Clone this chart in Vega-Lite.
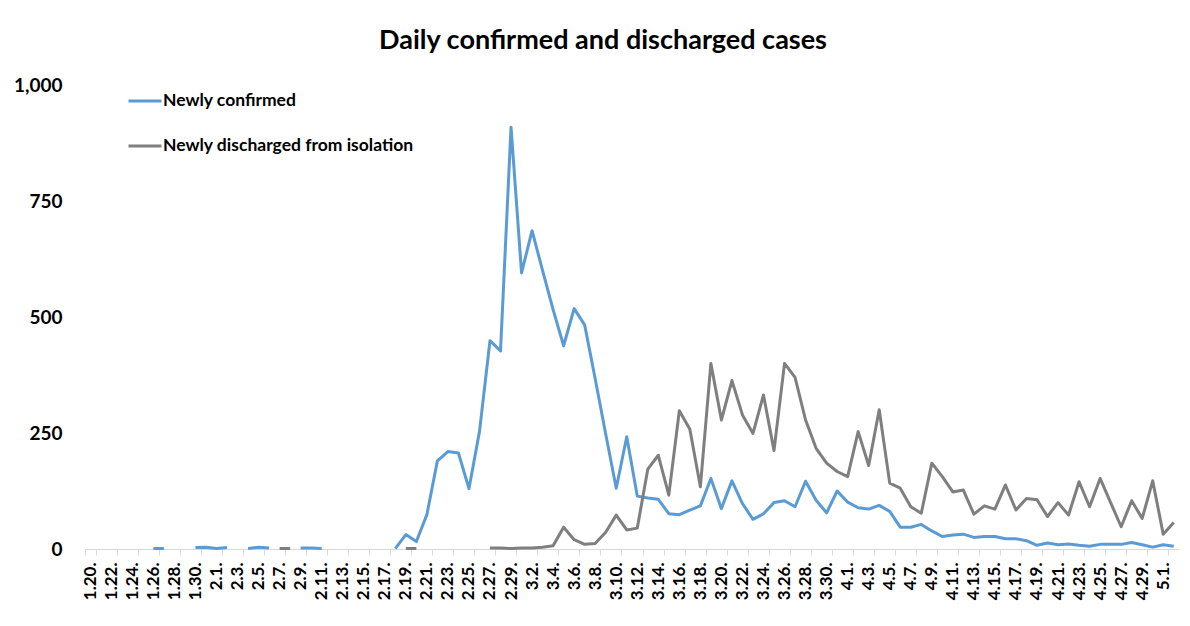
{
  "$schema": "https://vega.github.io/schema/vega-lite/v6.json",
  "autosize": "none",
  "width": 1094,
  "height": 464,
  "padding": {"left": 85, "top": 85, "right": 11, "bottom": 77},
  "background": "white",
  "title": {
    "text": "Daily confirmed and discharged cases",
    "font": "Lato",
    "fontSize": 27,
    "fontWeight": "bold",
    "color": "#000000",
    "anchor": "middle",
    "frame": "group",
    "baseline": "alphabetic",
    "offset": 0,
    "dx": -29
  },
  "data": {
    "values": [
      {"date": "1.20.", "Newly confirmed": 1, "Newly discharged from isolation": null},
      {"date": "1.21.", "Newly confirmed": null, "Newly discharged from isolation": null},
      {"date": "1.22.", "Newly confirmed": null, "Newly discharged from isolation": null},
      {"date": "1.23.", "Newly confirmed": null, "Newly discharged from isolation": null},
      {"date": "1.24.", "Newly confirmed": 1, "Newly discharged from isolation": null},
      {"date": "1.25.", "Newly confirmed": null, "Newly discharged from isolation": null},
      {"date": "1.26.", "Newly confirmed": 1, "Newly discharged from isolation": null},
      {"date": "1.27.", "Newly confirmed": 1, "Newly discharged from isolation": null},
      {"date": "1.28.", "Newly confirmed": null, "Newly discharged from isolation": null},
      {"date": "1.29.", "Newly confirmed": null, "Newly discharged from isolation": null},
      {"date": "1.30.", "Newly confirmed": 3, "Newly discharged from isolation": null},
      {"date": "1.31.", "Newly confirmed": 4, "Newly discharged from isolation": null},
      {"date": "2.1.", "Newly confirmed": 1, "Newly discharged from isolation": null},
      {"date": "2.2.", "Newly confirmed": 3, "Newly discharged from isolation": null},
      {"date": "2.3.", "Newly confirmed": null, "Newly discharged from isolation": null},
      {"date": "2.4.", "Newly confirmed": 1, "Newly discharged from isolation": null},
      {"date": "2.5.", "Newly confirmed": 4, "Newly discharged from isolation": null},
      {"date": "2.6.", "Newly confirmed": 2, "Newly discharged from isolation": null},
      {"date": "2.7.", "Newly confirmed": null, "Newly discharged from isolation": 1},
      {"date": "2.8.", "Newly confirmed": null, "Newly discharged from isolation": 1},
      {"date": "2.9.", "Newly confirmed": 2, "Newly discharged from isolation": null},
      {"date": "2.10.", "Newly confirmed": 2, "Newly discharged from isolation": null},
      {"date": "2.11.", "Newly confirmed": 1, "Newly discharged from isolation": null},
      {"date": "2.12.", "Newly confirmed": null, "Newly discharged from isolation": null},
      {"date": "2.13.", "Newly confirmed": null, "Newly discharged from isolation": null},
      {"date": "2.14.", "Newly confirmed": null, "Newly discharged from isolation": null},
      {"date": "2.15.", "Newly confirmed": null, "Newly discharged from isolation": null},
      {"date": "2.16.", "Newly confirmed": null, "Newly discharged from isolation": null},
      {"date": "2.17.", "Newly confirmed": null, "Newly discharged from isolation": null},
      {"date": "2.18.", "Newly confirmed": 1, "Newly discharged from isolation": null},
      {"date": "2.19.", "Newly confirmed": 31, "Newly discharged from isolation": 1},
      {"date": "2.20.", "Newly confirmed": 16, "Newly discharged from isolation": 1},
      {"date": "2.21.", "Newly confirmed": 74, "Newly discharged from isolation": null},
      {"date": "2.22.", "Newly confirmed": 190, "Newly discharged from isolation": null},
      {"date": "2.23.", "Newly confirmed": 210, "Newly discharged from isolation": null},
      {"date": "2.24.", "Newly confirmed": 207, "Newly discharged from isolation": null},
      {"date": "2.25.", "Newly confirmed": 130, "Newly discharged from isolation": null},
      {"date": "2.26.", "Newly confirmed": 253, "Newly discharged from isolation": null},
      {"date": "2.27.", "Newly confirmed": 449, "Newly discharged from isolation": 2},
      {"date": "2.28.", "Newly confirmed": 427, "Newly discharged from isolation": 2},
      {"date": "2.29.", "Newly confirmed": 909, "Newly discharged from isolation": 1},
      {"date": "3.1.", "Newly confirmed": 595, "Newly discharged from isolation": 2},
      {"date": "3.2.", "Newly confirmed": 686, "Newly discharged from isolation": 2},
      {"date": "3.3.", "Newly confirmed": 600, "Newly discharged from isolation": 4},
      {"date": "3.4.", "Newly confirmed": 516, "Newly discharged from isolation": 7},
      {"date": "3.5.", "Newly confirmed": 438, "Newly discharged from isolation": 47},
      {"date": "3.6.", "Newly confirmed": 518, "Newly discharged from isolation": 20},
      {"date": "3.7.", "Newly confirmed": 483, "Newly discharged from isolation": 10},
      {"date": "3.8.", "Newly confirmed": 367, "Newly discharged from isolation": 12},
      {"date": "3.9.", "Newly confirmed": 248, "Newly discharged from isolation": 36},
      {"date": "3.10.", "Newly confirmed": 131, "Newly discharged from isolation": 73},
      {"date": "3.11.", "Newly confirmed": 242, "Newly discharged from isolation": 41},
      {"date": "3.12.", "Newly confirmed": 114, "Newly discharged from isolation": 45},
      {"date": "3.13.", "Newly confirmed": 110, "Newly discharged from isolation": 172},
      {"date": "3.14.", "Newly confirmed": 107, "Newly discharged from isolation": 202},
      {"date": "3.15.", "Newly confirmed": 76, "Newly discharged from isolation": 116},
      {"date": "3.16.", "Newly confirmed": 74, "Newly discharged from isolation": 298},
      {"date": "3.17.", "Newly confirmed": 84, "Newly discharged from isolation": 258},
      {"date": "3.18.", "Newly confirmed": 93, "Newly discharged from isolation": 134},
      {"date": "3.19.", "Newly confirmed": 152, "Newly discharged from isolation": 400},
      {"date": "3.20.", "Newly confirmed": 87, "Newly discharged from isolation": 278},
      {"date": "3.21.", "Newly confirmed": 147, "Newly discharged from isolation": 363},
      {"date": "3.22.", "Newly confirmed": 98, "Newly discharged from isolation": 289},
      {"date": "3.23.", "Newly confirmed": 64, "Newly discharged from isolation": 249},
      {"date": "3.24.", "Newly confirmed": 76, "Newly discharged from isolation": 332},
      {"date": "3.25.", "Newly confirmed": 100, "Newly discharged from isolation": 212},
      {"date": "3.26.", "Newly confirmed": 104, "Newly discharged from isolation": 400},
      {"date": "3.27.", "Newly confirmed": 91, "Newly discharged from isolation": 370},
      {"date": "3.28.", "Newly confirmed": 146, "Newly discharged from isolation": 278},
      {"date": "3.29.", "Newly confirmed": 105, "Newly discharged from isolation": 217},
      {"date": "3.30.", "Newly confirmed": 78, "Newly discharged from isolation": 185},
      {"date": "3.31.", "Newly confirmed": 125, "Newly discharged from isolation": 167},
      {"date": "4.1.", "Newly confirmed": 101, "Newly discharged from isolation": 156},
      {"date": "4.2.", "Newly confirmed": 89, "Newly discharged from isolation": 253},
      {"date": "4.3.", "Newly confirmed": 86, "Newly discharged from isolation": 180},
      {"date": "4.4.", "Newly confirmed": 94, "Newly discharged from isolation": 300},
      {"date": "4.5.", "Newly confirmed": 81, "Newly discharged from isolation": 142},
      {"date": "4.6.", "Newly confirmed": 47, "Newly discharged from isolation": 131},
      {"date": "4.7.", "Newly confirmed": 47, "Newly discharged from isolation": 91},
      {"date": "4.8.", "Newly confirmed": 53, "Newly discharged from isolation": 77},
      {"date": "4.9.", "Newly confirmed": 39, "Newly discharged from isolation": 185},
      {"date": "4.10.", "Newly confirmed": 27, "Newly discharged from isolation": 156},
      {"date": "4.11.", "Newly confirmed": 30, "Newly discharged from isolation": 123},
      {"date": "4.12.", "Newly confirmed": 32, "Newly discharged from isolation": 127},
      {"date": "4.13.", "Newly confirmed": 25, "Newly discharged from isolation": 75},
      {"date": "4.14.", "Newly confirmed": 27, "Newly discharged from isolation": 93},
      {"date": "4.15.", "Newly confirmed": 27, "Newly discharged from isolation": 86},
      {"date": "4.16.", "Newly confirmed": 22, "Newly discharged from isolation": 138},
      {"date": "4.17.", "Newly confirmed": 22, "Newly discharged from isolation": 84},
      {"date": "4.18.", "Newly confirmed": 18, "Newly discharged from isolation": 109},
      {"date": "4.19.", "Newly confirmed": 8, "Newly discharged from isolation": 106},
      {"date": "4.20.", "Newly confirmed": 13, "Newly discharged from isolation": 70},
      {"date": "4.21.", "Newly confirmed": 9, "Newly discharged from isolation": 100},
      {"date": "4.22.", "Newly confirmed": 11, "Newly discharged from isolation": 73},
      {"date": "4.23.", "Newly confirmed": 8, "Newly discharged from isolation": 145},
      {"date": "4.24.", "Newly confirmed": 6, "Newly discharged from isolation": 91},
      {"date": "4.25.", "Newly confirmed": 10, "Newly discharged from isolation": 152},
      {"date": "4.26.", "Newly confirmed": 10, "Newly discharged from isolation": 100},
      {"date": "4.27.", "Newly confirmed": 10, "Newly discharged from isolation": 48},
      {"date": "4.28.", "Newly confirmed": 14, "Newly discharged from isolation": 104},
      {"date": "4.29.", "Newly confirmed": 9, "Newly discharged from isolation": 66},
      {"date": "4.30.", "Newly confirmed": 4, "Newly discharged from isolation": 147},
      {"date": "5.1.", "Newly confirmed": 9, "Newly discharged from isolation": 32},
      {"date": "5.2.", "Newly confirmed": 6, "Newly discharged from isolation": 57}
    ]
  },
  "transform": [
    {"fold": ["Newly confirmed", "Newly discharged from isolation"], "as": ["series", "value"]}
  ],
  "mark": {
    "type": "line",
    "strokeWidth": 3,
    "strokeJoin": "round",
    "invalid": "break-paths-show-domains"
  },
  "encoding": {
    "x": {
      "field": "date",
      "type": "ordinal",
      "sort": null,
      "bandPosition": 0.5,
      "scale": {"type": "band", "paddingInner": 0, "paddingOuter": 0},
      "axis": {
        "title": null,
        "values": ["1.20.", "1.22.", "1.24.", "1.26.", "1.28.", "1.30.", "2.1.", "2.3.", "2.5.", "2.7.", "2.9.", "2.11.", "2.13.", "2.15.", "2.17.", "2.19.", "2.21.", "2.23.", "2.25.", "2.27.", "2.29.", "3.2.", "3.4.", "3.6.", "3.8.", "3.10.", "3.12.", "3.14.", "3.16.", "3.18.", "3.20.", "3.22.", "3.24.", "3.26.", "3.28.", "3.30.", "4.1.", "4.3.", "4.5.", "4.7.", "4.9.", "4.11.", "4.13.", "4.15.", "4.17.", "4.19.", "4.21.", "4.23.", "4.25.", "4.27.", "4.29.", "5.1."],
        "labelAngle": -90,
        "labelFont": "Lato",
        "labelFontWeight": "bold",
        "labelFontSize": 17,
        "labelColor": "#000000",
        "labelPadding": 7,
        "domainColor": "#d9d9d9",
        "tickColor": "#d9d9d9",
        "tickSize": 6,
        "tickBand": "extent",
        "grid": false
      }
    },
    "y": {
      "field": "value",
      "type": "quantitative",
      "scale": {"domain": [0, 1000], "nice": false},
      "axis": {
        "title": null,
        "values": [0, 250, 500, 750, 1000],
        "format": ",.0f",
        "domain": false,
        "ticks": false,
        "grid": false,
        "labelFont": "Lato",
        "labelFontWeight": "bold",
        "labelFontSize": 19,
        "labelColor": "#000000",
        "labelPadding": 23
      }
    },
    "color": {
      "field": "series",
      "type": "nominal",
      "scale": {
        "domain": ["Newly confirmed", "Newly discharged from isolation"],
        "range": ["#5B9BD5", "#7F7F7F"]
      },
      "legend": {
        "title": null,
        "orient": "none",
        "legendX": 42,
        "legendY": -2,
        "padding": 0,
        "symbolType": "stroke",
        "symbolSize": 1089,
        "symbolStrokeWidth": 3,
        "labelOffset": 0,
        "rowPadding": 18,
        "labelFont": "Lato",
        "labelFontWeight": "bold",
        "labelFontSize": 17.5,
        "labelColor": "#000000",
        "labelLimit": 400
      }
    }
  },
  "config": {
    "view": {"stroke": null}
  }
}
